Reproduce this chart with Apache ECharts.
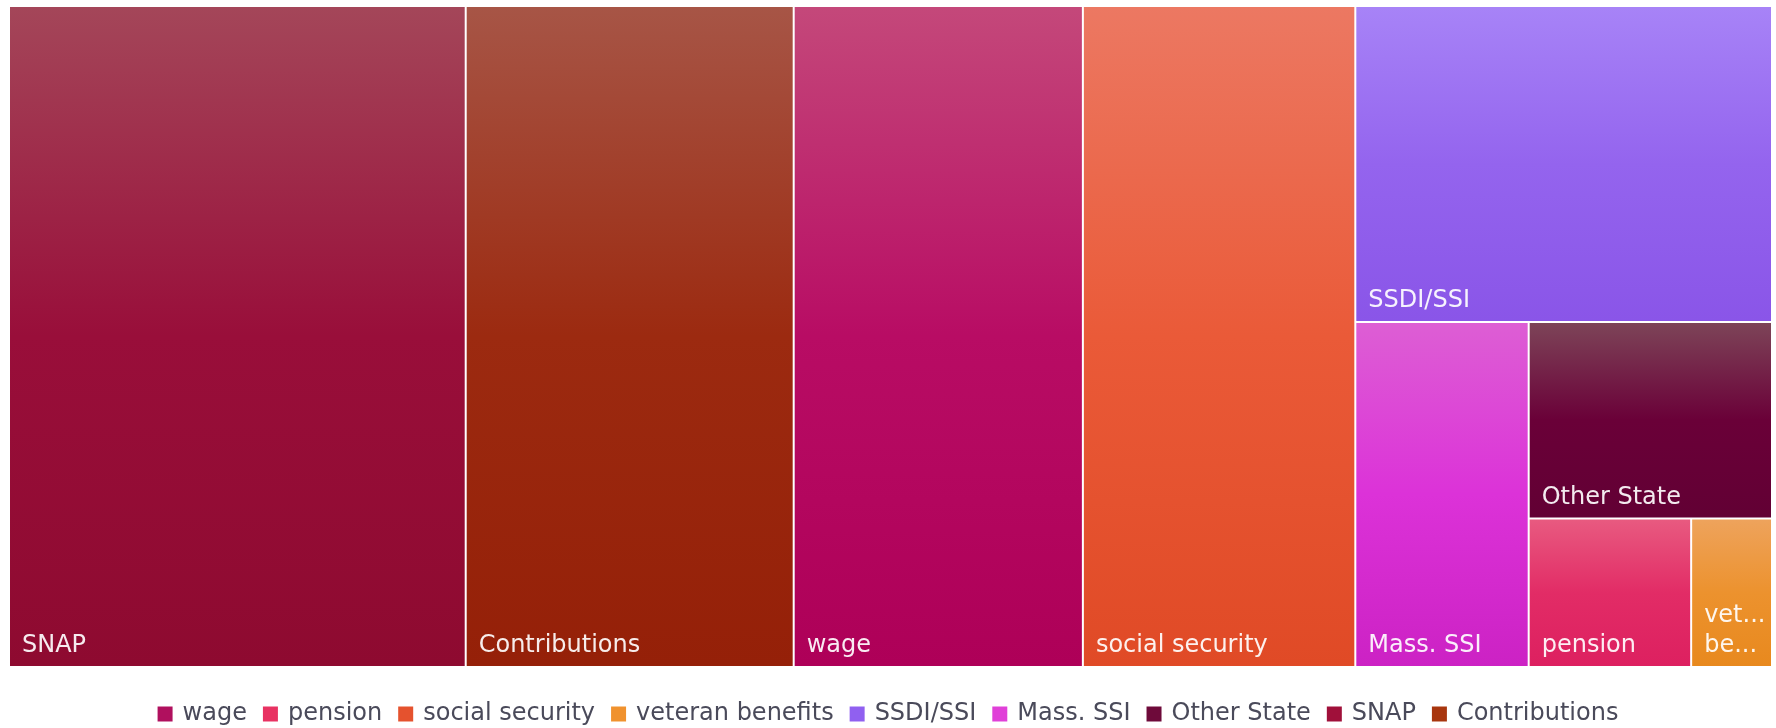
<!DOCTYPE html>
<html>
<head>
<meta charset="utf-8">
<script src="https://cdn.jsdelivr.net/npm/echarts@6/dist/echarts.min.js"></script>
<style>
  html, body { margin: 0; padding: 0; background: #fff; }
  #chart { width: 1776px; height: 728px; }
</style>
</head>
<body>
<div id="chart"></div>
<script>
// Income sources, in legend order
const categories = ['wage', 'pension', 'social security', 'veteran benefits', 'SSDI/SSI', 'Mass. SSI', 'Other State', 'SNAP', 'Contributions'];
const values = [1640, 207, 1545, 103, 1130, 513, 410, 2590, 1860];

// Solid legend swatches and the top/middle/bottom shades of each tile
const baseColors = ['#B0105E', '#E83262', '#E5522E', '#F0922E', '#9060F0', '#E040D8', '#6E0A3A', '#A0103A', '#A8360E'];
const topColors  = ['#C4487A', '#E85A80', '#EC7862', '#EEA35C', '#A783F7', '#DD5ED4', '#7D4458', '#A44659', '#A75546'];
const midColors  = ['#B80C64', '#E22C66', '#EA5A38', '#EC922E', '#9464EE', '#DC32D8', '#6A0038', '#990E3A', '#9C2A10'];
const botColors  = ['#AE0058', '#DD2060', '#E04A26', '#E8891E', '#8A55E8', '#CC22C4', '#620034', '#8E0A30', '#952008'];

const FONT = '"Century Gothic", "DejaVu Sans", sans-serif';

function gradient(i) {
  return new echarts.graphic.LinearGradient(0, 0, 0, 1, [
    { offset: 0, color: topColors[i] },
    { offset: 0.5, color: midColors[i] },
    { offset: 1, color: botColors[i] }
  ]);
}

const treeData = categories.map((name, i) => ({
  name: name,
  value: values[i],
  itemStyle: { color: gradient(i) }
}));
// narrow tile: one word per line, each line truncated to the tile width
treeData[3].label = { formatter: (p) => p.name.split(' ').join('\n') };

// Empty bar series only feed the legend its swatches
const legendSeries = categories.map((name, i) => ({
  type: 'bar',
  name: name,
  data: [],
  itemStyle: { color: baseColors[i] }
}));

const chart = echarts.init(document.getElementById('chart'), null, { renderer: 'canvas' });
chart.setOption({
  animation: false,
  textStyle: { fontFamily: FONT },
  grid: { show: false, left: 0, top: 0, width: 1, height: 1 },
  xAxis: { show: false, type: 'category' },
  yAxis: { show: false, type: 'value' },
  legend: {
    bottom: -3,
    left: 'center',
    icon: 'rect',
    itemWidth: 15,
    itemHeight: 15,
    itemGap: 16,
    selectedMode: false,
    textStyle: { fontSize: 24, color: '#4A4A5A', fontFamily: FONT, padding: [0, 0, 0, 5] },
    data: categories
  },
  series: [
    {
      type: 'treemap',
      left: 10,
      top: 7,
      width: 1761,
      height: 659,
      roam: false,
      nodeClick: false,
      squareRatio: 0.8,
      breadcrumb: { show: false },
      sort: 'desc',
      itemStyle: { borderWidth: 0, gapWidth: 2, borderColor: '#fff' },
      label: {
        show: true,
        position: 'insideBottomLeft',
        distance: 0,
        padding: [0, 0, 5, 12],
        fontSize: 24,
        fontFamily: FONT,
        color: 'rgba(255,255,255,0.92)',
        overflow: 'truncate',
        lineOverflow: 'truncate',
        ellipsis: '...',
        lineHeight: 30
      },
      upperLabel: { show: false },
      data: treeData
    }
  ].concat(legendSeries)
});
</script>
</body>
</html>
